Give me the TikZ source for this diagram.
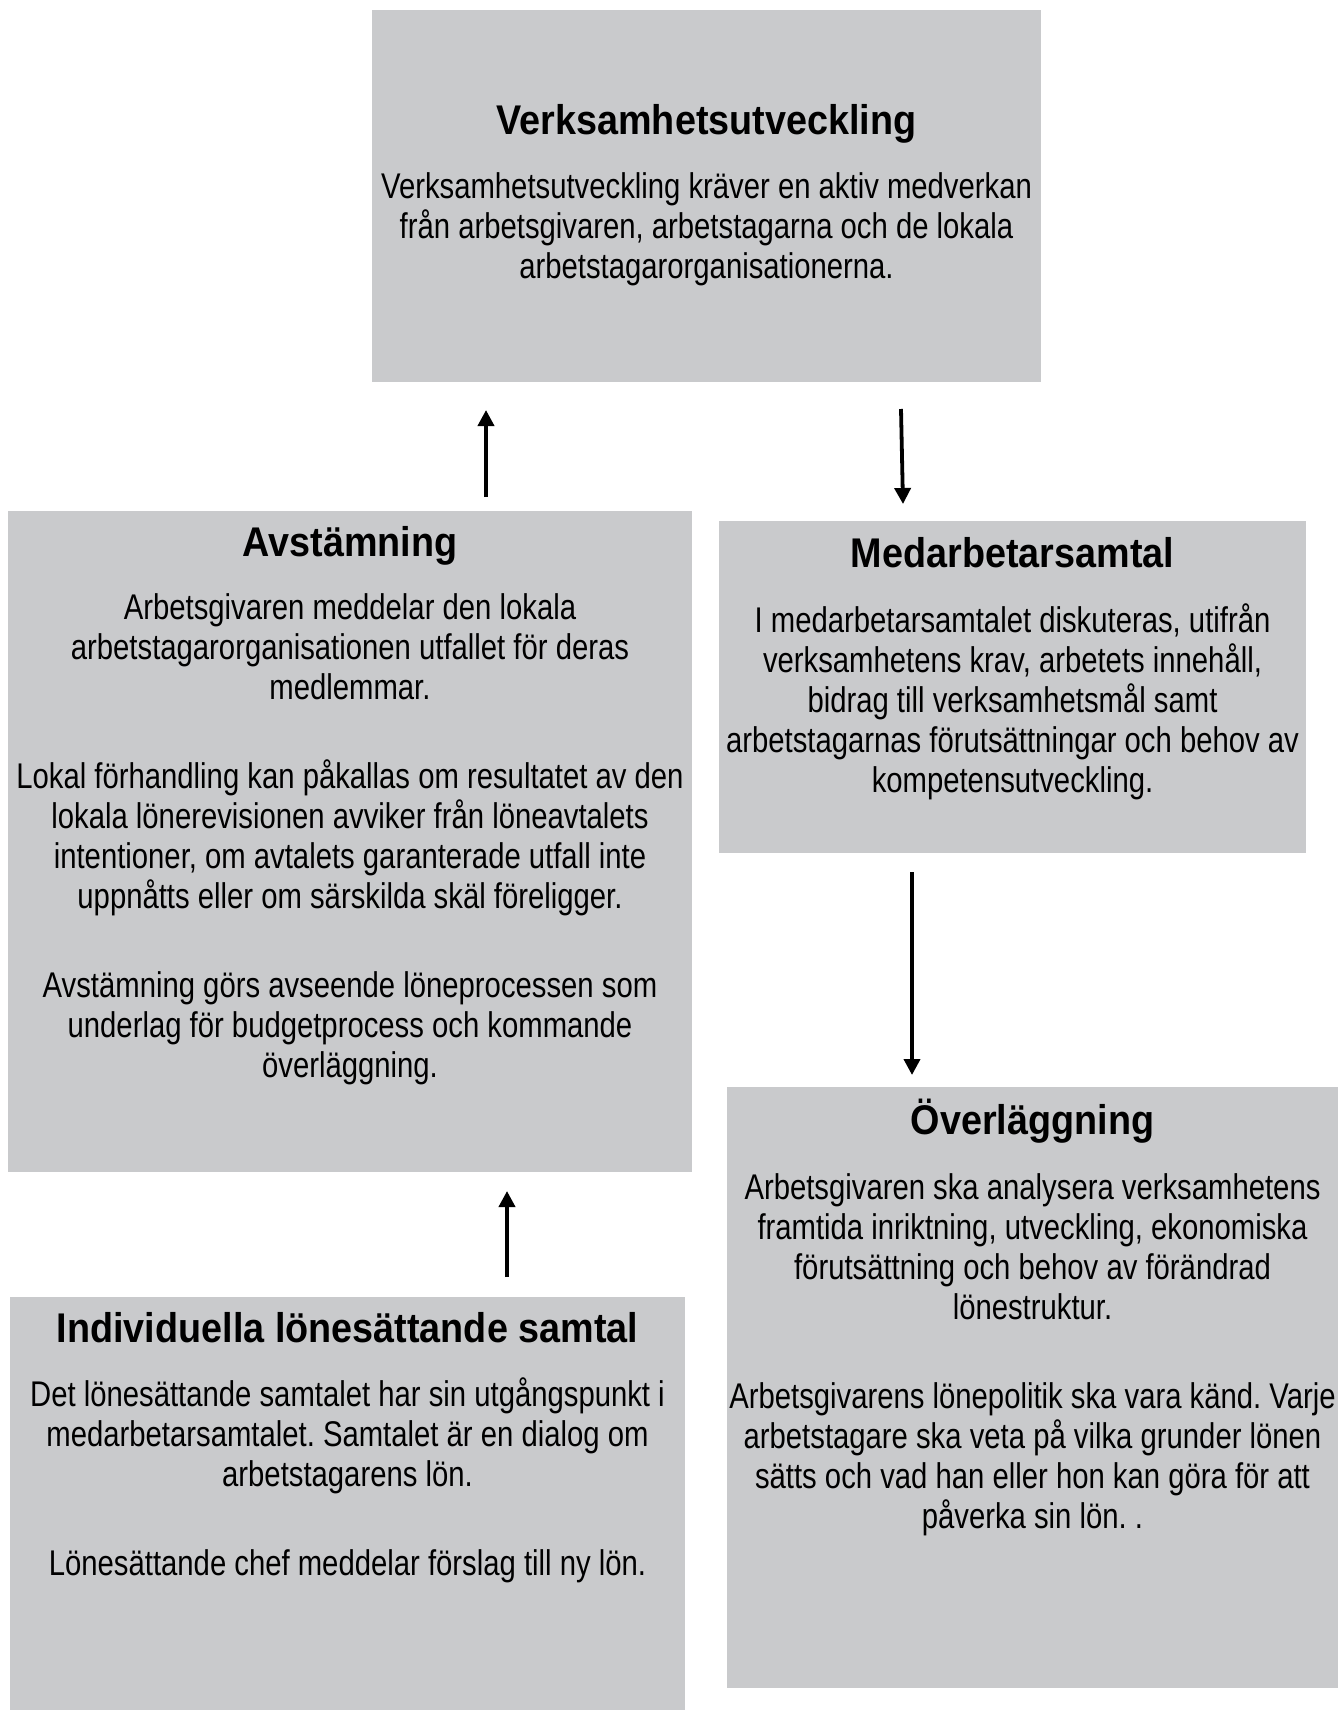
\documentclass[tikz,border=0pt]{standalone}
\usepackage{fontspec}
\setmainfont{Liberation Sans}
\newfontfamily\bodyfont[FakeStretch=0.82]{Liberation Sans}
\newfontfamily\headfont[FakeStretch=0.91]{Liberation Sans Bold}
\usetikzlibrary{arrows.meta}
\definecolor{boxgray}{RGB}{201,202,204}
\frenchspacing
\tikzset{
  panel/.style={fill=boxgray, draw=none, inner sep=0pt, outer sep=0pt, anchor=north west},
  head/.style={anchor=base, inner sep=0pt, font=\headfont\fontsize{41.5}{48}\selectfont},
  bodytxt/.style={anchor=base, inner sep=0pt},
  flow/.style={line width=3.8pt, -{Triangle[width=16pt,length=16pt]}}
}
\newcommand{\bodyblock}[1]{\parbox[t]{720pt}{\centering\bodyfont\fontsize{35.7}{40}\selectfont #1}}
\begin{document}
\begin{tikzpicture}[x=1pt,y=-1pt]
\useasboundingbox (0,0) rectangle (1338,1710);

% panels
\node[panel, minimum width=669pt, minimum height=372pt] (verk) at (372,10) {};
\node[panel, minimum width=684pt, minimum height=661pt] (avst) at (8,511) {};
\node[panel, minimum width=587pt, minimum height=332pt] (medarb) at (719,521) {};
\node[panel, minimum width=611pt, minimum height=601pt] (overl) at (727,1087) {};
\node[panel, minimum width=675pt, minimum height=413pt] (indiv) at (10,1297) {};

% titles
\node[head] (verkT) at (706.5,134) {Verksamhetsutveckling};
\node[head] (avstT) at (350,556) {Avstämning};
\node[head] (medarbT) at (1012.5,567) {Medarbetarsamtal};
\node[head] (overlT) at (1032.5,1134) {Överläggning};
\node[head] (indivT) at (347.5,1342) {Individuella lönesättande samtal};

% bodies
\node[bodytxt] (verkB) at (706.5,198) {\bodyblock{Verksamhetsutveckling kräver en aktiv medverkan\\
från arbetsgivaren, arbetstagarna och de lokala\\
arbetstagarorganisationerna.}};

\node[bodytxt] (avstB) at (350,619) {\bodyblock{Arbetsgivaren meddelar den lokala\\
arbetstagarorganisationen utfallet för deras\\
medlemmar.\\[49pt]
Lokal förhandling kan påkallas om resultatet av den\\
lokala lönerevisionen avviker från löneavtalets\\
intentioner, om avtalets garanterade utfall inte\\
uppnåtts eller om särskilda skäl föreligger.\\[49pt]
Avstämning görs avseende löneprocessen som\\
underlag för budgetprocess och kommande\\
överläggning.}};

\node[bodytxt] (medarbB) at (1012.5,632) {\bodyblock{I medarbetarsamtalet diskuteras, utifrån\\
verksamhetens krav, arbetets innehåll,\\
bidrag till verksamhetsmål samt\\
arbetstagarnas förutsättningar och behov av\\
kompetensutveckling.}};

\node[bodytxt] (overlB) at (1032.5,1199) {\bodyblock{Arbetsgivaren ska analysera verksamhetens\\
framtida inriktning, utveckling, ekonomiska\\
förutsättning och behov av förändrad\\
lönestruktur.\\[49pt]
Arbetsgivarens lönepolitik ska vara känd. Varje\\
arbetstagare ska veta på vilka grunder lönen\\
sätts och vad han eller hon kan göra för att\\
påverka sin lön. .}};

\node[bodytxt] (indivB) at (347.5,1406) {\bodyblock{Det lönesättande samtalet har sin utgångspunkt i\\
medarbetarsamtalet. Samtalet är en dialog om\\
arbetstagarens lön.\\[49pt]
Lönesättande chef meddelar förslag till ny lön.}};

% arrows
\coordinate (a1s) at (486,497);
\coordinate (a1e) at (486,410);
\coordinate (a2s) at (901,409);
\coordinate (a2e) at (903,504);
\coordinate (a3s) at (912,872);
\coordinate (a3e) at (912,1075);
\coordinate (a4s) at (507,1277);
\coordinate (a4e) at (507,1191);
\draw[flow] (a1s) -- (a1e);
\draw[flow] (a2s) -- (a2e);
\draw[flow] (a3s) -- (a3e);
\draw[flow] (a4s) -- (a4e);
\end{tikzpicture}
\end{document}
